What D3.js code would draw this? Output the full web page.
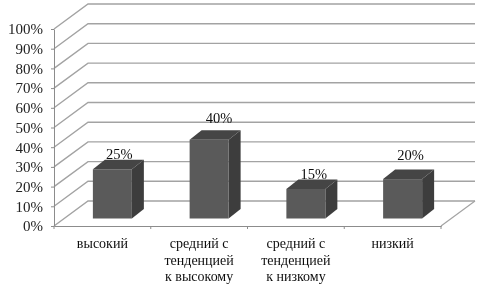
<!DOCTYPE html>
<html>
<head>
<meta charset="utf-8">
<script src="https://cdn.jsdelivr.net/npm/d3@7"></script>
<style>
    html, body { margin: 0; padding: 0; background: #fff; }
    svg { display: block; }
    text { font-family: "Liberation Serif", serif; fill: #111; }
    .tick text { font-size: 15px; fill: #222; }
    .axis path, .axis line { stroke: #8c8c8c; stroke-width: 1; }
</style>
</head>
<body>
<svg id="chart"></svg>
<script>
var categories = [
    ["высокий"],
    ["средний с", "тенденцией", "к высокому"],
    ["средний с", "тенденцией", "к низкому"],
    ["низкий"]
];
var values = [25, 40, 15, 20];
var valueLabels = ["25%", "40%", "15%", "20%"];
var yTicks = [0, 10, 20, 30, 40, 50, 60, 70, 80, 90, 100];

var width = 478, height = 293;
var margin = { "left": 54, "right": 37, "top": 29, "bottom": 67 };
var innerW = width - margin.left - margin.right;
var innerH = height - margin.top - margin.bottom;

// wall depth and bar depth of the fake 3d
var wallDx = 34, wallDy = 25;
var barFrontDx = 10, barFrontDy = 7.5;
var barDx = 12, barDy = 9.5;

// the value labels do not sit evenly over the bars in the original
var labelNudgeX = [7, 10, 8, 8];
var labelNudgeY = [-10.5, -16.5, -9.5, -19.5];

var svg = d3.select("#chart").attr("width", width).attr("height", height);

// original is a soft scan, a very light blur gets close to it
svg.append("defs").append("filter")
    .attr("id", "soft")
    .append("feGaussianBlur")
    .attr("stdDeviation", 0.4);

var g = svg.append("g")
    .attr("transform", "translate(" + margin.left + "," + margin.top + ")")
    .attr("filter", "url(#soft)");

var x = d3.scaleBand()
    .domain(d3.range(categories.length))
    .range([0, innerW])
    .paddingInner(0.597)
    .paddingOuter(0.2985);
var xAxisScale = d3.scaleBand().domain(d3.range(categories.length)).range([0, innerW]);
var y = d3.scaleLinear().domain([0, 100]).range([innerH, 0]);

// gridlines: slanted part on the side wall, then along the back wall
g.append("g").selectAll("path")
    .data(yTicks).enter()
    .append("path")
    .attr("d", d => "M0," + y(d) + "L" + wallDx + "," + (y(d) - wallDy) + "H" + (innerW + wallDx))
    .attr("fill", "none")
    .attr("stroke", "#a3a3a3")
    .attr("stroke-width", 1.4);

// floor edge on the right
g.append("path")
    .attr("d", "M" + innerW + "," + y(0) + "L" + (innerW + wallDx) + "," + (y(0) - wallDy))
    .attr("fill", "none")
    .attr("stroke", "#a3a3a3")
    .attr("stroke-width", 1.2);

// y axis
g.append("g").attr("class", "axis")
    .call(d3.axisLeft(y).tickValues(yTicks).tickSize(3).tickPadding(8).tickSizeOuter(0).tickFormat(d => d + "%"));

// x axis, labels are added by hand because of the line breaks
var xAxis = g.append("g").attr("class", "axis")
    .attr("transform", "translate(0," + innerH + ")")
    .call(d3.axisBottom(xAxisScale).tickSize(0).tickSizeOuter(0).tickFormat(""));
xAxis.selectAll(".edge")
    .data(d3.range(categories.length + 1)).enter()
    .append("line")
    .attr("class", "edge")
    .attr("x1", d => d * xAxisScale.step())
    .attr("x2", d => d * xAxisScale.step())
    .attr("y1", 0)
    .attr("y2", 3);

var labels = g.append("g").selectAll("text")
    .data(categories).enter()
    .append("text")
    .attr("text-anchor", "middle")
    .attr("font-size", 14)
    .attr("fill", "#222");
labels.selectAll("tspan")
    .data((d, i) => d.map(t => ({ "t": t, "i": i }))).enter()
    .append("tspan")
    .attr("x", d => xAxisScale(d.i) + xAxisScale.bandwidth() / 2)
    .attr("y", (d, j) => innerH + 22 + j * 16.5)
    .text(d => d.t);

// bars
var bars = g.append("g").selectAll("g")
    .data(values).enter()
    .append("g")
    .attr("transform", "translate(" + barFrontDx + "," + (-barFrontDy) + ")");

var barH = d => innerH - y(d);

bars.append("path")
    .attr("d", (d, i) => {
        var x1 = x(i) + x.bandwidth();
        return "M" + x1 + "," + y(d) + "l" + barDx + "," + (-barDy) + "V" + (innerH - barDy) + "L" + x1 + "," + innerH + "Z";
    })
    .attr("fill", "#3e3e3e");

bars.append("path")
    .attr("d", (d, i) => "M" + x(i) + "," + y(d) + "l" + barDx + "," + (-barDy) + "h" + x.bandwidth() + "l" + (-barDx) + "," + barDy + "Z")
    .attr("fill", "#444444");

bars.append("rect")
    .attr("x", (d, i) => x(i))
    .attr("y", d => y(d))
    .attr("width", x.bandwidth())
    .attr("height", d => barH(d))
    .attr("fill", "#5a5a5a");

// value labels above the bars
bars.append("text")
    .attr("x", (d, i) => x(i) + x.bandwidth() / 2 + labelNudgeX[i])
    .attr("y", (d, i) => y(d) + labelNudgeY[i])
    .attr("text-anchor", "middle")
    .attr("font-size", 14.5)
    .text((d, i) => valueLabels[i]);
</script>
</body>
</html>
